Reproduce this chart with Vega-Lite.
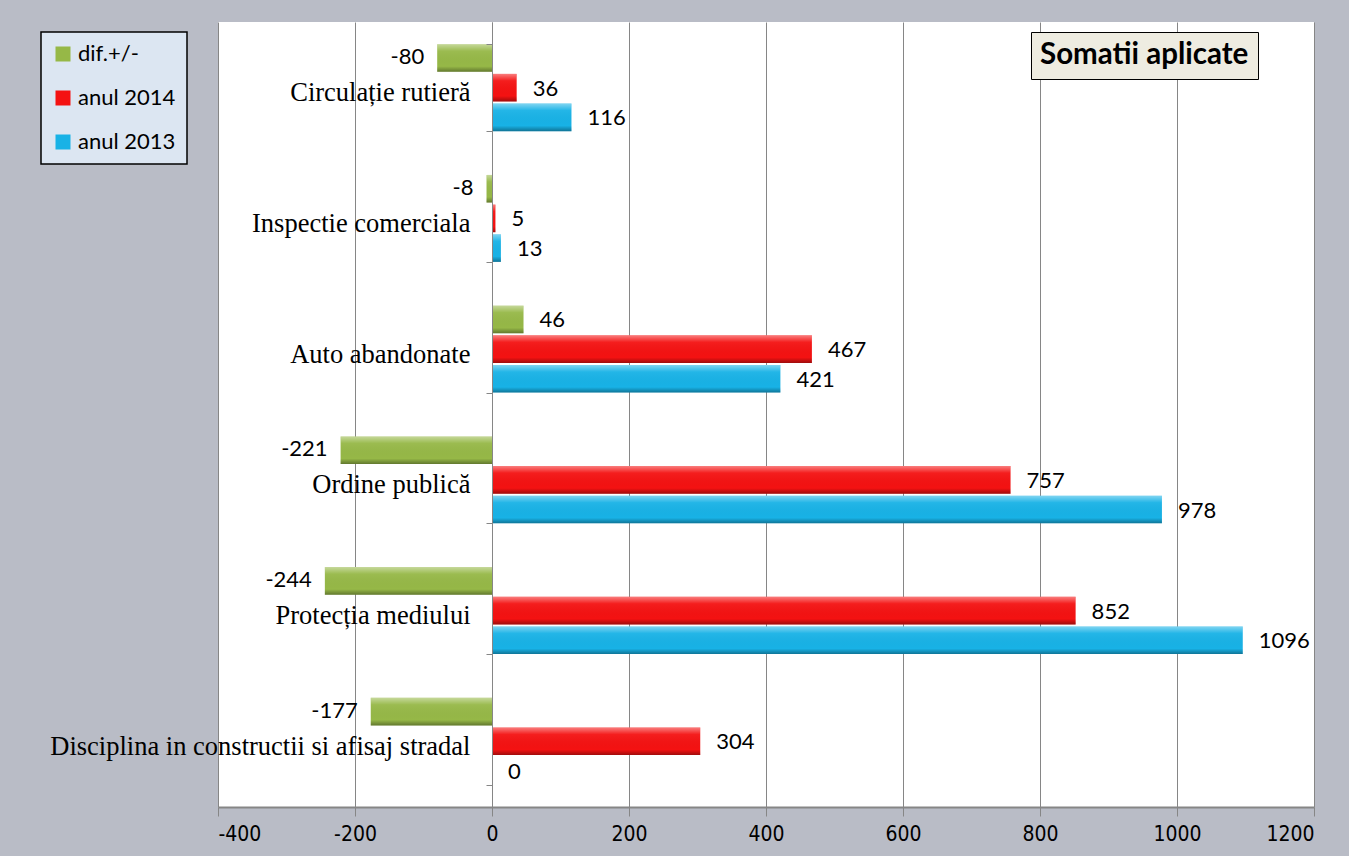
{
  "$schema": "https://vega.github.io/schema/vega-lite/v6.json",
  "autosize": {"type": "none"},
  "padding": {"left": 218, "top": 22, "right": 35, "bottom": 49},
  "width": 1096,
  "height": 785,
  "background": "#b9bcc6",
  "config": {
    "view": {"stroke": null, "fill": "#ffffff"},
    "font": "Lato"
  },
  "data": {
    "values": [
      {"cat": "Circulație rutieră", "series": "dif.+/-", "value": -80},
      {"cat": "Circulație rutieră", "series": "anul 2014", "value": 36},
      {"cat": "Circulație rutieră", "series": "anul 2013", "value": 116},
      {"cat": "Inspectie comerciala", "series": "dif.+/-", "value": -8},
      {"cat": "Inspectie comerciala", "series": "anul 2014", "value": 5},
      {"cat": "Inspectie comerciala", "series": "anul 2013", "value": 13},
      {"cat": "Auto abandonate", "series": "dif.+/-", "value": 46},
      {"cat": "Auto abandonate", "series": "anul 2014", "value": 467},
      {"cat": "Auto abandonate", "series": "anul 2013", "value": 421},
      {"cat": "Ordine publică", "series": "dif.+/-", "value": -221},
      {"cat": "Ordine publică", "series": "anul 2014", "value": 757},
      {"cat": "Ordine publică", "series": "anul 2013", "value": 978},
      {"cat": "Protecția mediului", "series": "dif.+/-", "value": -244},
      {"cat": "Protecția mediului", "series": "anul 2014", "value": 852},
      {"cat": "Protecția mediului", "series": "anul 2013", "value": 1096},
      {"cat": "Disciplina in constructii si afisaj stradal", "series": "dif.+/-", "value": -177},
      {"cat": "Disciplina in constructii si afisaj stradal", "series": "anul 2014", "value": 304},
      {"cat": "Disciplina in constructii si afisaj stradal", "series": "anul 2013", "value": 0}
    ]
  },
  "encoding": {
    "y": {
      "field": "cat", "type": "nominal",
      "sort": ["Circulație rutieră", "Inspectie comerciala", "Auto abandonate", "Ordine publică", "Protecția mediului", "Disciplina in constructii si afisaj stradal"],
      "scale": {"paddingInner": 0.335, "paddingOuter": 0.17},
      "axis": {
        "title": null,
        "offset": -274,
        "tickBand": "extent",
        "domain": true,
        "domainColor": "#868686",
        "tickColor": "#868686",
        "tickSize": 6,
        "labelPadding": 16,
        "labelLimit": 0,
        "labelFont": "Liberation Serif",
        "labelFontSize": 26.5,
        "labelColor": "#000000",
        "labelOffset": 5,
        "zindex": 1
      }
    },
    "yOffset": {
      "field": "series", "type": "nominal",
      "sort": ["dif.+/-", "anul 2014", "anul 2013"],
      "scale": {"paddingInner": 0.07, "paddingOuter": 0}
    },
    "x": {
      "field": "value", "type": "quantitative",
      "scale": {"domain": [-400, 1200], "nice": false},
      "axis": {
        "title": null,
        "values": [-400, -200, 0, 200, 400, 600, 800, 1000, 1200],
        "labelExpr": "'' + datum.value",
        "grid": true,
        "gridColor": "#868686",
        "gridOpacity": 1,
        "gridWidth": 1,
        "domainColor": "#868686",
        "domainWidth": 2,
        "tickColor": "#868686",
        "tickSize": 9,
        "labelPadding": 7,
        "labelFont": "DejaVu Sans Condensed, Roboto",
        "labelFontSize": 21,
        "labelColor": "#000000"
      }
    }
  },
  "layer": [
    {
      "mark": {"type": "bar", "cornerRadius": 0},
      "encoding": {
        "color": {
          "field": "series", "type": "nominal",
          "sort": ["dif.+/-", "anul 2014", "anul 2013"],
          "scale": {"domain": ["dif.+/-", "anul 2014", "anul 2013"], "range": ["#96b847", "#f41212", "#18b2e6"]},
          "legend": {
            "title": null,
            "orient": "none",
            "legendX": -177,
            "legendY": 10,
            "fillColor": "#dce6f2",
            "strokeColor": "#000000",
            "padding": 11,
            "symbolType": "square",
            "symbolSize": 225,
            "symbolStrokeWidth": 0,
            "symbolOpacity": 1,
            "labelFont": "Lato",
            "labelFontSize": 22,
            "labelColor": "#000000",
            "labelOffset": 4,
            "rowPadding": 22,
            "encode": {"legend": {"update": {"strokeWidth": {"value": 1.5}}}}
          }
        }
      }
    },
    {
      "mark": {
        "type": "bar",
        "fill": {
          "gradient": "linear", "x1": 0, "y1": 0, "x2": 0, "y2": 1,
          "stops": [
            {"offset": 0, "color": "rgba(255,255,255,0.45)"},
            {"offset": 0.25, "color": "rgba(255,255,255,0.05)"},
            {"offset": 0.8, "color": "rgba(0,0,0,0.0)"},
            {"offset": 1, "color": "rgba(0,0,0,0.35)"}
          ]
        },
        "strokeWidth": 0
      },
      "encoding": {
        "strokeDash": {
          "datum": "Somatii aplicate",
          "legend": {
            "title": "Somatii aplicate",
            "values": [],
            "orient": "none",
            "legendX": 813,
            "legendY": 10,
            "fillColor": "#eeece1",
            "strokeColor": "#000000",
            "padding": 9,
            "titleFont": "Lato",
            "titleFontSize": 29.5,
            "titleFontWeight": "bold",
            "titleColor": "#000000",
            "titleLimit": 600,
            "titlePadding": 0,
            "encode": {"legend": {"update": {"strokeWidth": {"value": 1.5}}}}
          }
        }
      }
    },
    {
      "transform": [{"filter": "datum.value >= 0"}],
      "mark": {"type": "text", "align": "left", "baseline": "middle", "dx": 16, "dy": 1, "font": "Lato", "fontSize": 22, "color": "#000000"},
      "encoding": {"text": {"field": "value", "type": "nominal"}}
    },
    {
      "transform": [{"filter": "datum.value < 0"}],
      "mark": {"type": "text", "align": "right", "baseline": "middle", "dx": -13, "dy": -1, "font": "Lato", "fontSize": 22, "color": "#000000"},
      "encoding": {"text": {"field": "value", "type": "nominal"}}
    }
  ]
}
